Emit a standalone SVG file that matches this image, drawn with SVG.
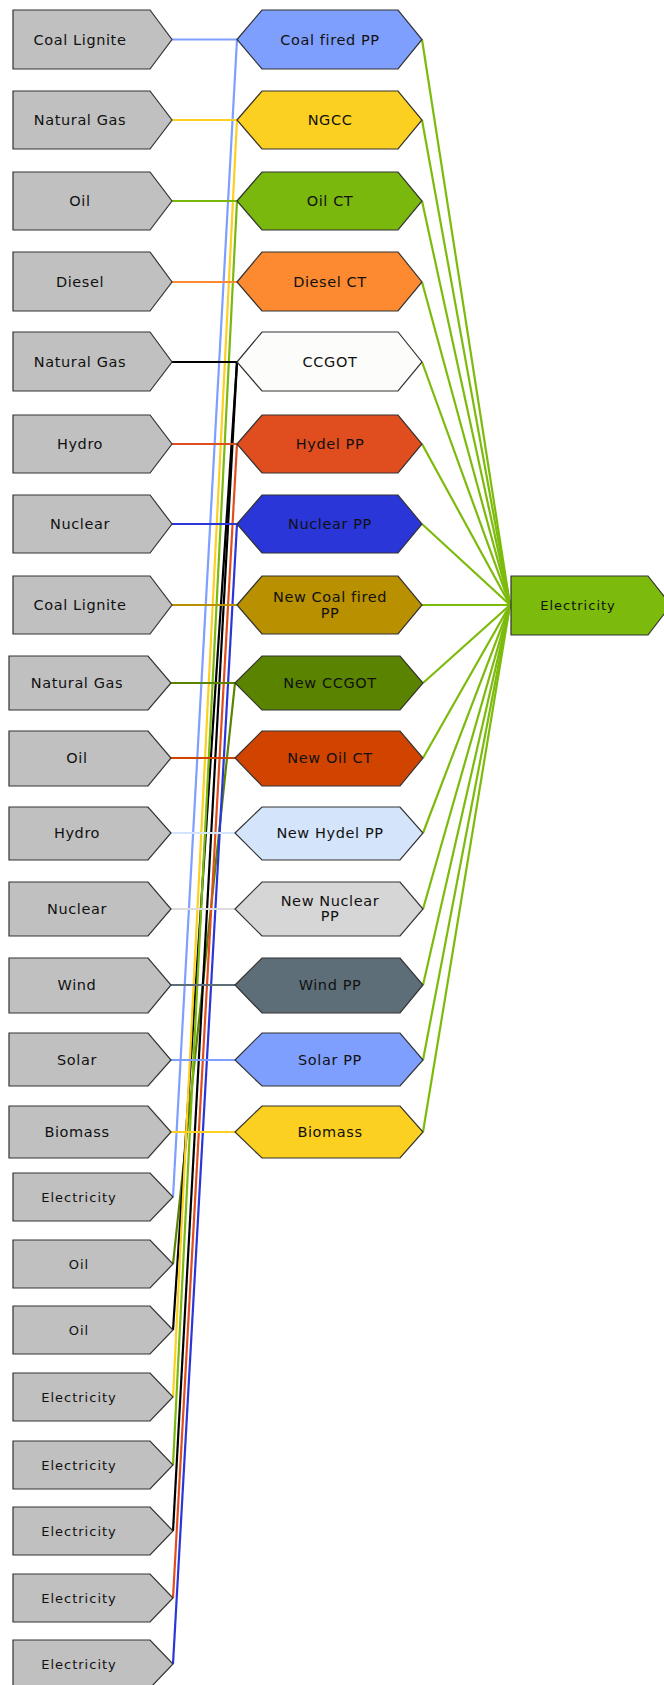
<svg xmlns="http://www.w3.org/2000/svg" width="664" height="1685" viewBox="0 0 664 1685">
<style>
.src{fill:#c0c0c0;stroke:#333;stroke-width:1.2}
.hex{stroke:#333;stroke-width:1.2}
.t{font-family:"DejaVu Sans",Verdana,sans-serif;font-size:14.5px;fill:#111;text-anchor:middle;letter-spacing:0.6px}
.ts{font-family:"DejaVu Sans",Verdana,sans-serif;font-size:13px;fill:#111;text-anchor:middle;letter-spacing:1px}
#connectors line{stroke-width:2.2;fill:none}
</style>
<rect width="664" height="1685" fill="#fff"/>
<g id="connectors">
<line x1="237" y1="39.5" x2="173" y2="1197" stroke="#7f9fff"/>
<line x1="235" y1="683" x2="173" y2="1264" stroke="#5a8400"/>
<line x1="237" y1="362" x2="173" y2="1330" stroke="#000"/>
<line x1="237" y1="120" x2="173" y2="1397" stroke="#fcd020"/>
<line x1="237" y1="201" x2="173" y2="1465" stroke="#7ab80e"/>
<line x1="237" y1="362" x2="173" y2="1531" stroke="#000"/>
<line x1="237" y1="444" x2="173" y2="1598" stroke="#e04e20"/>
<line x1="237" y1="524" x2="173" y2="1664" stroke="#2a36d8"/>
<line x1="172" y1="39.5" x2="237" y2="39.5" stroke="#7f9fff"/>
<line x1="172" y1="120" x2="237" y2="120" stroke="#fcd020"/>
<line x1="172" y1="201" x2="237" y2="201" stroke="#7ab80e"/>
<line x1="172" y1="282" x2="237" y2="282" stroke="#fd8a30"/>
<line x1="172" y1="362" x2="237" y2="362" stroke="#000"/>
<line x1="172" y1="444" x2="237" y2="444" stroke="#e04e20"/>
<line x1="172" y1="524" x2="237" y2="524" stroke="#2a36d8"/>
<line x1="172" y1="605" x2="237" y2="605" stroke="#b89000"/>
<line x1="171" y1="683" x2="235" y2="683" stroke="#5a8400"/>
<line x1="171" y1="758" x2="235" y2="758" stroke="#d04400"/>
<line x1="171" y1="833" x2="235" y2="833" stroke="#d4e4fa"/>
<line x1="171" y1="909" x2="235" y2="909" stroke="#dcdcdc"/>
<line x1="171" y1="985" x2="235" y2="985" stroke="#5e6e78"/>
<line x1="171" y1="1060" x2="235" y2="1060" stroke="#7f9fff"/>
<line x1="171" y1="1132" x2="235" y2="1132" stroke="#fcd020"/>
<g stroke="#7cbb0c">
<line x1="422" y1="39.5" x2="510" y2="605"/>
<line x1="422" y1="120" x2="510" y2="605"/>
<line x1="422" y1="201" x2="510" y2="605"/>
<line x1="422" y1="282" x2="510" y2="605"/>
<line x1="422" y1="362" x2="510" y2="605"/>
<line x1="422" y1="444" x2="510" y2="605"/>
<line x1="422" y1="524" x2="510" y2="605"/>
<line x1="422" y1="605" x2="510" y2="605"/>
<line x1="423" y1="683" x2="510" y2="605"/>
<line x1="423" y1="758" x2="510" y2="605"/>
<line x1="423" y1="833" x2="510" y2="605"/>
<line x1="423" y1="909" x2="510" y2="605"/>
<line x1="423" y1="985" x2="510" y2="605"/>
<line x1="423" y1="1060" x2="510" y2="605"/>
<line x1="423" y1="1132" x2="510" y2="605"/>
</g>
</g>
<g id="src1"><polygon class="src" points="13,10 150,10 172,39.5 150,69 13,69"/><text class="t" x="80" y="44.5">Coal Lignite</text></g>
<g id="src2"><polygon class="src" points="13,91 150,91 172,120 150,149 13,149"/><text class="t" x="80" y="125">Natural Gas</text></g>
<g id="src3"><polygon class="src" points="13,172 150,172 172,201 150,230 13,230"/><text class="t" x="80" y="206">Oil</text></g>
<g id="src4"><polygon class="src" points="13,252 150,252 172,282 150,311 13,311"/><text class="t" x="80" y="287">Diesel</text></g>
<g id="src5"><polygon class="src" points="13,332 150,332 172,362 150,391 13,391"/><text class="t" x="80" y="367">Natural Gas</text></g>
<g id="src6"><polygon class="src" points="13,415 150,415 172,444 150,473 13,473"/><text class="t" x="80" y="449">Hydro</text></g>
<g id="src7"><polygon class="src" points="13,495 150,495 172,524 150,553 13,553"/><text class="t" x="80" y="529">Nuclear</text></g>
<g id="src8"><polygon class="src" points="13,576 150,576 172,605 150,634 13,634"/><text class="t" x="80" y="610">Coal Lignite</text></g>
<g id="src9"><polygon class="src" points="9,656 148,656 171,683 148,710 9,710"/><text class="t" x="77" y="688">Natural Gas</text></g>
<g id="src10"><polygon class="src" points="9,731 148,731 171,758 148,786 9,786"/><text class="t" x="77" y="763">Oil</text></g>
<g id="src11"><polygon class="src" points="9,807 148,807 171,833 148,860 9,860"/><text class="t" x="77" y="838">Hydro</text></g>
<g id="src12"><polygon class="src" points="9,882 148,882 171,909 148,936 9,936"/><text class="t" x="77" y="914">Nuclear</text></g>
<g id="src13"><polygon class="src" points="9,958 148,958 171,985 148,1013 9,1013"/><text class="t" x="77" y="990">Wind</text></g>
<g id="src14"><polygon class="src" points="9,1033 148,1033 171,1060 148,1086 9,1086"/><text class="t" x="77" y="1065">Solar</text></g>
<g id="src15"><polygon class="src" points="9,1106 148,1106 171,1132 148,1158 9,1158"/><text class="t" x="77" y="1137">Biomass</text></g>
<g id="src16"><polygon class="src" points="13,1173 150,1173 173,1197 150,1221 13,1221"/><text class="ts" x="79" y="1201.5">Electricity</text></g>
<g id="src17"><polygon class="src" points="13,1240 150,1240 173,1264 150,1288 13,1288"/><text class="ts" x="79" y="1268.5">Oil</text></g>
<g id="src18"><polygon class="src" points="13,1306 150,1306 173,1330 150,1354 13,1354"/><text class="ts" x="79" y="1334.5">Oil</text></g>
<g id="src19"><polygon class="src" points="13,1373 150,1373 173,1397 150,1421 13,1421"/><text class="ts" x="79" y="1401.5">Electricity</text></g>
<g id="src20"><polygon class="src" points="13,1441 150,1441 173,1465 150,1489 13,1489"/><text class="ts" x="79" y="1469.5">Electricity</text></g>
<g id="src21"><polygon class="src" points="13,1507 150,1507 173,1531 150,1555 13,1555"/><text class="ts" x="79" y="1535.5">Electricity</text></g>
<g id="src22"><polygon class="src" points="13,1574 150,1574 173,1598 150,1622 13,1622"/><text class="ts" x="79" y="1602.5">Electricity</text></g>
<g id="src23"><polygon class="src" points="13,1640 150,1640 173,1664 150,1688 13,1688"/><text class="ts" x="79" y="1668.5">Electricity</text></g>
<g id="hex1"><polygon class="hex" fill="#7f9fff" points="237,39.5 262,10 398,10 422,39.5 398,69 262,69"/><text class="t" x="330" y="44.5">Coal fired PP</text></g>
<g id="hex2"><polygon class="hex" fill="#fcd020" points="237,120 262,91 398,91 422,120 398,149 262,149"/><text class="t" x="330" y="125">NGCC</text></g>
<g id="hex3"><polygon class="hex" fill="#7ab80e" points="237,201 262,172 398,172 422,201 398,230 262,230"/><text class="t" x="330" y="206">Oil CT</text></g>
<g id="hex4"><polygon class="hex" fill="#fd8a30" points="237,282 262,252 398,252 422,282 398,311 262,311"/><text class="t" x="330" y="287">Diesel CT</text></g>
<g id="hex5"><polygon class="hex" fill="#fcfcfa" points="237,362 262,332 398,332 422,362 398,391 262,391"/><text class="t" x="330" y="367">CCGOT</text></g>
<g id="hex6"><polygon class="hex" fill="#e04e20" points="237,444 262,415 398,415 422,444 398,473 262,473"/><text class="t" x="330" y="449">Hydel PP</text></g>
<g id="hex7"><polygon class="hex" fill="#2a36d8" points="237,524 262,495 398,495 422,524 398,553 262,553"/><text class="t" x="330" y="529">Nuclear PP</text></g>
<g id="hex8"><polygon class="hex" fill="#b89000" points="237,605 262,576 398,576 422,605 398,634 262,634"/><text class="t" x="330" y="602">New Coal fired</text><text class="t" x="330" y="618">PP</text></g>
<g id="hex9"><polygon class="hex" fill="#5a8400" points="235,683 262,656 400,656 423,683 400,710 262,710"/><text class="t" x="330" y="688">New CCGOT</text></g>
<g id="hex10"><polygon class="hex" fill="#d04400" points="235,758 262,731 400,731 423,758 400,786 262,786"/><text class="t" x="330" y="763">New Oil CT</text></g>
<g id="hex11"><polygon class="hex" fill="#d4e4fa" points="235,833 262,807 400,807 423,833 400,860 262,860"/><text class="t" x="330" y="838">New Hydel PP</text></g>
<g id="hex12"><polygon class="hex" fill="#d6d6d6" points="235,909 262,882 400,882 423,909 400,936 262,936"/><text class="t" x="330" y="906">New Nuclear</text><text class="t" x="330" y="921">PP</text></g>
<g id="hex13"><polygon class="hex" fill="#5e6e78" points="235,985 262,958 400,958 423,985 400,1013 262,1013"/><text class="t" x="330" y="990">Wind PP</text></g>
<g id="hex14"><polygon class="hex" fill="#7f9fff" points="235,1060 262,1033 400,1033 423,1060 400,1086 262,1086"/><text class="t" x="330" y="1065">Solar PP</text></g>
<g id="hex15"><polygon class="hex" fill="#fcd020" points="235,1132 262,1106 400,1106 423,1132 400,1158 262,1158"/><text class="t" x="330" y="1137">Biomass</text></g>
<g id="electricity"><polygon class="hex" fill="#7cbb0c" points="511,576 648,576 671,605 648,635 511,635"/><text class="ts" x="578" y="609.5">Electricity</text></g>
</svg>
